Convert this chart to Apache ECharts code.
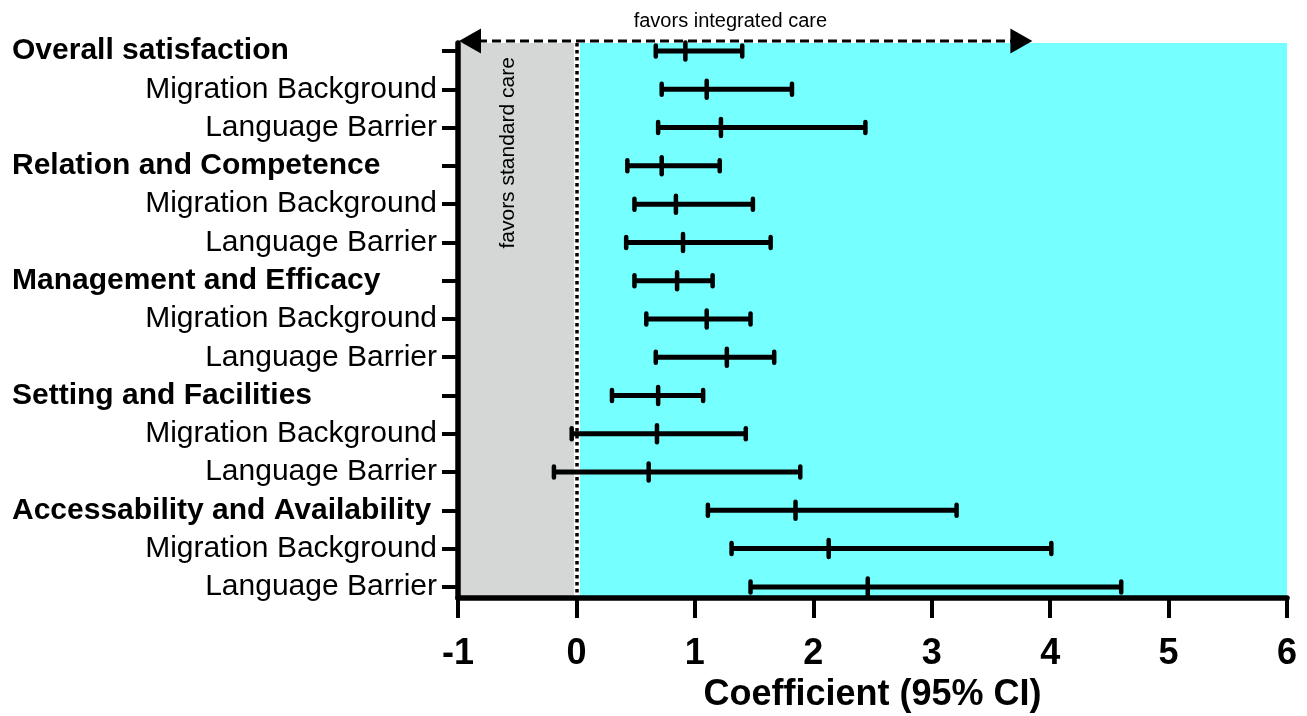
<!DOCTYPE html>
<html>
<head>
<meta charset="utf-8">
<script src="https://cdn.jsdelivr.net/npm/echarts@6/dist/echarts.min.js"></script>
<style>
    html, body {margin: 0; padding: 0; background: #fff;}
    #chart {width: 1307px; height: 716px;}
</style>
</head>
<body>
<div id="chart"></div>
<script>
const rowLabels = [
    'Overall satisfaction', 'Migration Background', 'Language Barrier',
    'Relation and Competence', 'Migration Background', 'Language Barrier',
    'Management and Efficacy', 'Migration Background', 'Language Barrier',
    'Setting and Facilities', 'Migration Background', 'Language Barrier',
    'Accessability and Availability', 'Migration Background', 'Language Barrier',
];
const headerRows = [0, 3, 6, 9, 12];

// coefficient and 95% CI per row
const lowerCI = [0.67, 0.72, 0.69, 0.43, 0.49, 0.42, 0.49, 0.59, 0.67, 0.30, -0.04, -0.19, 1.11, 1.31, 1.47];
const coefficient = [0.92, 1.10, 1.22, 0.72, 0.84, 0.90, 0.85, 1.10, 1.27, 0.69, 0.68, 0.61, 1.85, 2.13, 2.46];
const upperCI = [1.40, 1.82, 2.44, 1.21, 1.49, 1.64, 1.15, 1.47, 1.67, 1.07, 1.43, 1.89, 3.21, 4.01, 4.60];

const xTicks = [-1, 0, 1, 2, 3, 4, 5, 6];
const standardZone = [-1, 0];
const integratedZone = [0, 6];
const arrowSpan = [-1, 3.85];

const FONT = "'Liberation Sans', Arial, Helvetica, sans-serif";
const rowIndex = rowLabels.map((_, i) => i);
const ciData = rowIndex.map(i => [i, lowerCI[i], coefficient[i], upperCI[i]]);

const chart = echarts.init(document.getElementById('chart'));

chart.setOption({
    animation: false,
    backgroundColor: '#fff',
    grid: {left: 458, right: 20, top: 43, bottom: 118, containLabel: false, outerBoundsMode: 'none'},
    xAxis: {
        type: 'value',
        min: xTicks[0],
        max: xTicks[xTicks.length - 1],
        interval: 1,
        z: 10,
        splitLine: {show: false},
        axisLine: {show: true, onZero: false, lineStyle: {color: '#000', width: 5.5}},
        axisTick: {show: true, inside: false, length: 20, lineStyle: {color: '#000', width: 4}},
        axisLabel: {
            margin: 38,
            color: '#000',
            fontFamily: "'Liberation Sans Narrow', " + FONT,
            fontWeight: 'bold',
            fontSize: 36,
        },
        name: 'Coefficient (95% CI)',
        nameLocation: 'middle',
        nameGap: 63,
        nameTextStyle: {color: '#000', fontFamily: FONT, fontWeight: 'bold', fontSize: 36},
    },
    yAxis: {
        type: 'value',
        inverse: true,
        min: -0.21,
        max: 14.29,
        z: 10,
        splitLine: {show: false},
        axisLine: {show: true, onZero: false, lineStyle: {color: '#000', width: 5.5}},
        axisTick: {show: true, inside: false, length: 16, customValues: rowIndex, lineStyle: {color: '#000', width: 4}},
        axisLabel: {
            customValues: rowIndex,
            margin: 21,
            align: 'right',
            color: '#000',
            fontFamily: FONT,
            fontSize: 30,
            formatter: value => {
                const i = Math.round(value);
                return headerRows.includes(i) ? `{h|${rowLabels[i]}}` : `{s|${rowLabels[i]}}`;
            },
            rich: {
                h: {fontFamily: FONT, fontSize: 30, fontWeight: 'bold', color: '#000', width: 425, align: 'left'},
                s: {fontFamily: FONT, fontSize: 30, color: '#000'},
            },
        },
    },
    series: [
        {
            type: 'custom',
            name: 'zones',
            silent: true,
            data: [],
            renderItem: () => null,
            markArea: {
                silent: true,
                data: [
                    [{xAxis: standardZone[0], itemStyle: {color: '#d5d6d6'}}, {xAxis: standardZone[1]}],
                    [{xAxis: integratedZone[0], itemStyle: {color: '#75ffff'}}, {xAxis: integratedZone[1]}],
                ],
            },
            markLine: {
                silent: true,
                symbol: 'none',
                label: {show: false},
                data: [
                    {xAxis: 0, lineStyle: {color: '#fff', width: 6, type: 'solid'}},
                    {xAxis: 0, lineStyle: {color: '#000', width: 3.5, type: [3.5, 3.5]}},
                ],
            },
            z: 1,
        },
        {
            type: 'custom',
            name: 'CI',
            data: ciData,
            encode: {x: [1, 2, 3], y: 0},
            z: 5,
            renderItem: (params, api) => {
                const row = api.value(0);
                const lo = api.coord([api.value(1), row]);
                const mid = api.coord([api.value(2), row]);
                const hi = api.coord([api.value(3), row]);
                const black = '#000';
                const vbar = (p, half) => ({
                    type: 'line',
                    shape: {x1: p[0], y1: p[1] - half, x2: p[0], y2: p[1] + half},
                    style: {stroke: black, lineWidth: 4.5, lineCap: 'round'},
                });
                return {
                    type: 'group',
                    children: [
                        {
                            type: 'line',
                            shape: {x1: lo[0], y1: lo[1], x2: hi[0], y2: hi[1]},
                            style: {stroke: black, lineWidth: 5},
                        },
                        vbar(lo, 5.5),
                        vbar(hi, 5.5),
                        vbar(mid, 8.5),
                    ],
                };
            },
        },
    ],
});

// annotations: dashed double arrow and the two "favors" captions
const arrowY = chart.convertToPixel({gridIndex: 0}, [0, -0.21])[1] - 2;
const arrowL = chart.convertToPixel({gridIndex: 0}, [arrowSpan[0], 0])[0];
const arrowR = chart.convertToPixel({gridIndex: 0}, [arrowSpan[1], 0])[0];
const captionX = chart.convertToPixel({gridIndex: 0}, [1.3, 0])[0];
const sideCaption = chart.convertToPixel({gridIndex: 0}, [-0.575, 2.66]);

chart.setOption({
    graphic: [
        {
            type: 'line',
            z: 100,
            shape: {x1: arrowL + 20, y1: arrowY, x2: arrowR - 20, y2: arrowY},
            style: {stroke: '#000', lineWidth: 3, lineDash: [9, 5]},
        },
        {
            type: 'polygon',
            z: 100,
            shape: {points: [[arrowL + 1, arrowY], [arrowL + 23, arrowY - 12.5], [arrowL + 23, arrowY + 12.5]]},
            style: {fill: '#000'},
        },
        {
            type: 'polygon',
            z: 100,
            shape: {points: [[arrowR, arrowY], [arrowR - 22, arrowY - 12.5], [arrowR - 22, arrowY + 12.5]]},
            style: {fill: '#000'},
        },
        {
            type: 'text',
            z: 100,
            x: captionX,
            y: arrowY - 20,
            style: {
                text: 'favors integrated care',
                fill: '#000',
                font: `20px ${FONT}`,
                align: 'center',
                verticalAlign: 'middle',
            },
        },
        {
            type: 'text',
            z: 100,
            x: sideCaption[0],
            y: sideCaption[1],
            rotation: Math.PI / 2,
            style: {
                text: 'favors standard care',
                fill: '#000',
                font: `21px ${FONT}`,
                align: 'center',
                verticalAlign: 'middle',
            },
        },
    ],
});

window.addEventListener('resize', () => chart.resize());
</script>
</body>
</html>
